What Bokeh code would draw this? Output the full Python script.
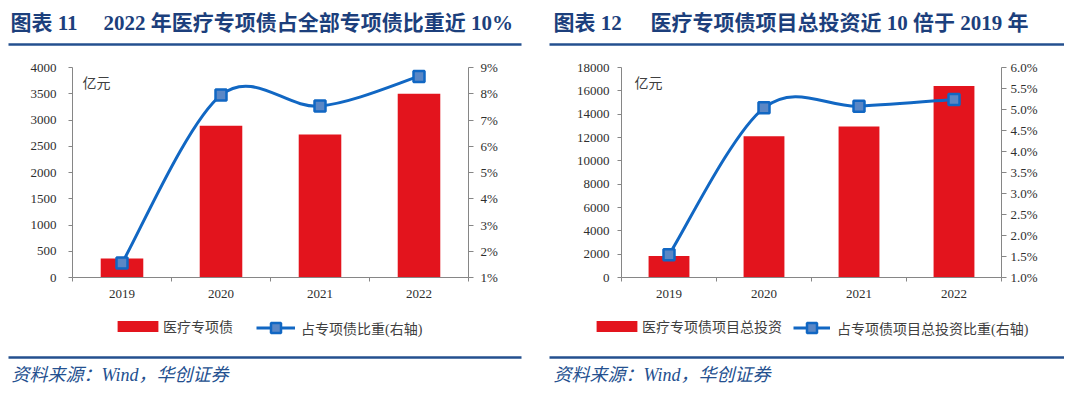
from bokeh.plotting import figure
from bokeh.models import (Range1d, LinearAxis, FixedTicker, PrintfTickFormatter,
                          Legend, LegendItem, Label, ColumnDataSource)
from bokeh.layouts import column, row
from bokeh.core.properties import value
from bokeh.embed import file_html
from bokeh.resources import INLINE

# ---------------- data ----------------
years = ["2019", "2020", "2021", "2022"]

med_bond = [364, 2890, 2724, 3502]              # 医疗专项债 (亿元)
med_bond_share = [1.55, 7.95, 7.53, 8.66]       # 占专项债比重 (%)

med_invest = [1837, 12115, 12947, 16421]        # 医疗专项债项目总投资 (亿元)
med_invest_share = [1.54, 5.04, 5.08, 5.24]     # 占专项债项目总投资比重 (%)

left_ticks = [0, 500, 1000, 1500, 2000, 2500, 3000, 3500, 4000]
left_pct_ticks = [1, 2, 3, 4, 5, 6, 7, 8, 9]
right_ticks = [0, 2000, 4000, 6000, 8000, 10000, 12000, 14000, 16000, 18000]
right_pct_ticks = [1.0, 1.5, 2.0, 2.5, 3.0, 3.5, 4.0, 4.5, 5.0, 5.5, 6.0]

title_nums = ["图表 11", "图表 12"]
titles = ["2022 年医疗专项债占全部专项债比重近 10%",
          "医疗专项债项目总投资近 10 倍于 2019 年"]
bar_labels = ["医疗专项债", "医疗专项债项目总投资"]
line_labels = ["占专项债比重(右轴)", "占专项债项目总投资比重(右轴)"]
unit_label = "亿元"
source_text = "资料来源：Wind，华创证券"

# ---------------- style ----------------
BAR = "#E3141D"
LINE = "#1167C3"
MFILL = "#5A87C6"
NAVY = "#1C3F7C"
RULE = "#24508F"
AXIS = "#868686"
TXT = "#2E2E2E"
FONT = "'Liberation Serif', 'Noto Sans CJK SC'"

CW, CH = 532, 293          # chart canvas size
TOP, BOT = 15, 225         # pixel rows of the value-axis top / zero line


def smooth_controls(xs, ys):
    """Excel-like smoothed line: Bezier control points from the data points."""
    n = len(xs)
    out = dict(x0=[], y0=[], x1=[], y1=[], cx0=[], cy0=[], cx1=[], cy1=[])
    for i in range(n - 1):
        a = i - 1 if i > 0 else i
        d = i + 2 if i + 2 < n else i + 1
        out["x0"].append(xs[i]); out["y0"].append(ys[i])
        out["x1"].append(xs[i + 1]); out["y1"].append(ys[i + 1])
        out["cx0"].append(xs[i] + (xs[i + 1] - xs[a]) / 6)
        out["cy0"].append(ys[i] + (ys[i + 1] - ys[a]) / 6)
        out["cx1"].append(xs[i + 1] - (xs[d] - xs[i]) / 6)
        out["cy1"].append(ys[i + 1] - (ys[d] - ys[i]) / 6)
    return out


def padded(lo, hi, px_lo, px_hi, total_lo, total_hi):
    """Range whose [lo, hi] occupies pixels [px_lo, px_hi] of [total_lo, total_hi]."""
    k = (hi - lo) / (px_hi - px_lo)
    return Range1d(lo - (px_lo - total_lo) * k, hi + (total_hi - px_hi) * k)


def make_chart(cats, bars, pct, yticks, pticks, pfmt, xl, xr, lstand, rstand,
               unit_x, leg1_x, leg2_x, leg_w2, leg_stand2, bar_label, line_label):
    n = len(cats)
    xs = [i + 0.5 for i in range(n)]
    ymin, ymax = yticks[0], yticks[-1]
    pmin, pmax = pticks[0], pticks[-1]
    p = figure(width=CW, height=CH,
               x_range=padded(0, n, xl, xr, 0, CW),
               y_range=padded(ymin, ymax, CH - BOT, CH - TOP, 0, CH),
               x_axis_type=None, y_axis_type=None, toolbar_location=None,
               output_backend="svg", min_border=0)
    p.outline_line_color = None
    p.background_fill_color = "white"
    p.border_fill_color = "white"
    p.extra_y_ranges = {"pct": padded(pmin, pmax, CH - BOT, CH - TOP, 0, CH)}

    src = ColumnDataSource(dict(x=xs, v=bars, p=pct))
    r_bar = p.vbar(x="x", top="v", width=0.43, source=src, fill_color=BAR,
                   line_color=None)
    ctl = smooth_controls(xs, pct)
    r_curve = p.bezier(source=ColumnDataSource(ctl), x0="x0", y0="y0", x1="x1",
                       y1="y1", cx0="cx0", cy0="cy0", cx1="cx1", cy1="cy1",
                       line_color=LINE, line_width=3, y_range_name="pct")
    r_pts = p.scatter(x="x", y="p", source=src, marker="square", size=11,
                      fill_color=MFILL, line_color=LINE, line_width=2.5,
                      y_range_name="pct")

    def style(ax):
        ax.axis_line_color = AXIS
        ax.major_tick_line_color = AXIS
        ax.minor_tick_line_color = AXIS
        ax.major_label_text_font = FONT
        ax.major_label_text_font_size = "13px"
        ax.major_label_text_color = TXT

    xa = LinearAxis(ticker=FixedTicker(ticks=xs, minor_ticks=list(range(n + 1))),
                    major_label_overrides={x: c for x, c in zip(xs, cats)},
                    fixed_location=ymin, bounds=(0, n))
    style(xa)
    xa.major_tick_out = 0
    xa.major_tick_in = 0
    xa.minor_tick_out = 4
    xa.minor_tick_in = 0
    xa.major_label_standoff = 8
    p.add_layout(xa, "below")

    ya = LinearAxis(ticker=FixedTicker(ticks=yticks, minor_ticks=[]),
                    fixed_location=0, bounds=(ymin, ymax))
    style(ya)
    ya.major_tick_out = 4
    ya.major_tick_in = 0
    ya.major_label_standoff = lstand
    p.add_layout(ya, "left")

    ra = LinearAxis(y_range_name="pct", ticker=FixedTicker(ticks=pticks, minor_ticks=[]),
                    formatter=PrintfTickFormatter(format=pfmt),
                    fixed_location=n, bounds=(pmin, pmax))
    style(ra)
    ra.major_tick_out = 5
    ra.major_tick_in = 0
    ra.major_label_standoff = rstand
    p.add_layout(ra, "right")

    p.add_layout(Label(x=unit_x, y=ymax * 0.933, text=unit_label,
                       text_font="Noto Sans CJK SC", text_font_size="14px",
                       text_color="#404040", text_baseline="middle"))

    leg1 = Legend(items=[LegendItem(label=bar_label, renderers=[r_bar])],
                  location=(leg1_x, 9), orientation="horizontal",
                  glyph_width=51, glyph_height=14, label_standoff=0,
                  padding=0, margin=0, label_height=14,
                  label_text_font=FONT, label_text_font_size="14px",
                  label_text_color="#404040", border_line_color=None,
                  background_fill_alpha=0)
    leg2 = Legend(items=[LegendItem(label=line_label, renderers=[r_curve, r_pts])],
                  location=(leg2_x, 5), orientation="horizontal",
                  glyph_width=leg_w2, glyph_height=25, label_standoff=leg_stand2,
                  padding=0, margin=0, label_height=25,
                  label_text_font=FONT, label_text_font_size="14px",
                  label_text_color="#404040", border_line_color=None,
                  background_fill_alpha=0)
    p.add_layout(leg1)
    p.add_layout(leg2)
    return p


left = make_chart(years, med_bond, med_bond_share, left_ticks, left_pct_ticks, "%d%%",
                  72, 468, 12, 7, 0.1, 112, 256, 39, 6, bar_labels[0], line_labels[0])
right = make_chart(years, med_invest, med_invest_share, right_ticks, right_pct_ticks,
                   "%.1f%%", 89, 469, 8, 4, 0.137, 59, 261, 37, 7,
                   bar_labels[1], line_labels[1])


def strip(w, h):
    f = figure(width=w, height=h, x_range=Range1d(0, w), y_range=Range1d(h, 0),
               x_axis_type=None, y_axis_type=None, toolbar_location=None,
               output_backend="svg", min_border=0)
    f.outline_line_color = None
    f.border_fill_color = "white"
    f.background_fill_color = "white"
    return f


header = strip(1064, 52)
header.text(x=[10, 553], y=[22, 22], text=title_nums, text_font=value(FONT),
            text_font_size="21px", text_font_style="bold", text_color=NAVY,
            text_baseline="middle")
header.text(x=[103, 650], y=[22, 22], text=titles, text_font=value(FONT),
            text_font_size="21px", text_font_style="bold", text_color=NAVY,
            text_baseline="middle")
header.segment(x0=[8, 549], y0=[44, 44], x1=[521, 1064], y1=[44, 44],
               line_color=RULE, line_width=2.5)

footer = strip(1064, 42)
footer.segment(x0=[8, 549], y0=[12, 12], x1=[521, 1064], y1=[12, 12],
               line_color=RULE, line_width=2.5)
footer.text(x=[11, 553], y=[29, 29], text=[source_text, source_text],
            text_font=value(FONT), text_font_size="18px", text_font_style="italic",
            text_color=RULE, text_baseline="middle")

layout = column(header, row(left, right), footer)
open("out.html", "w").write(file_html(layout, INLINE))
